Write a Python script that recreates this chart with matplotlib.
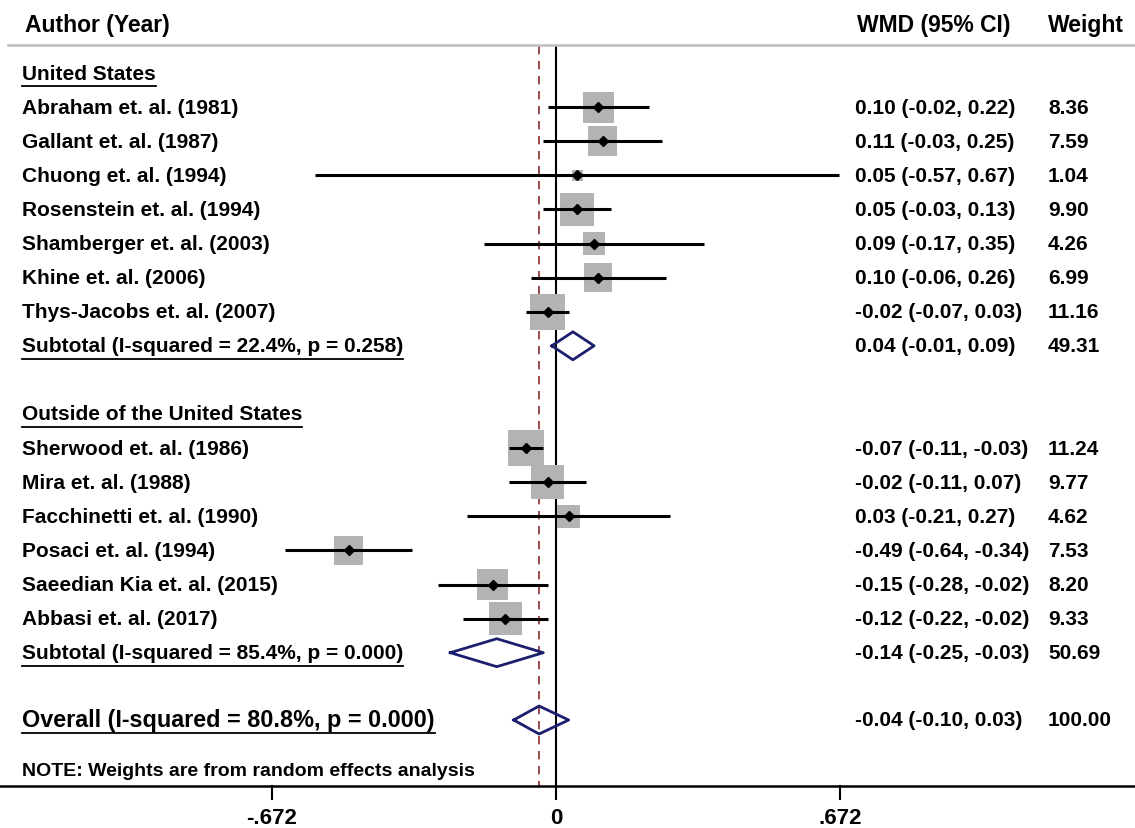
import numpy as np
import matplotlib
matplotlib.use("Agg")
import matplotlib.pyplot as plt
from matplotlib import transforms

plt.rcParams['font.family'] = ['Liberation Sans', 'DejaVu Sans']
plt.rcParams['font.weight'] = 'bold'

# study data, top to bottom
us_names = ["Abraham et. al. (1981)", "Gallant et. al. (1987)", "Chuong et. al. (1994)",
            "Rosenstein et. al. (1994)", "Shamberger et. al. (2003)", "Khine et. al. (2006)",
            "Thys-Jacobs et. al. (2007)"]
us_est = [0.10, 0.11, 0.05, 0.05, 0.09, 0.10, -0.02]
us_lo = [-0.02, -0.03, -0.57, -0.03, -0.17, -0.06, -0.07]
us_hi = [0.22, 0.25, 0.67, 0.13, 0.35, 0.26, 0.03]
us_w = [8.36, 7.59, 1.04, 9.90, 4.26, 6.99, 11.16]

out_names = ["Sherwood et. al. (1986)", "Mira et. al. (1988)", "Facchinetti et. al. (1990)",
             "Posaci et. al. (1994)", "Saeedian Kia et. al. (2015)", "Abbasi et. al. (2017)"]
out_est = [-0.07, -0.02, 0.03, -0.49, -0.15, -0.12]
out_lo = [-0.11, -0.11, -0.21, -0.64, -0.28, -0.22]
out_hi = [-0.03, 0.07, 0.27, -0.34, -0.02, -0.02]
out_w = [11.24, 9.77, 4.62, 7.53, 8.20, 9.33]

# pooled estimates: (label, est, lo, hi, weight)
us_sub = ("Subtotal (I-squared = 22.4%, p = 0.258)", 0.04, -0.01, 0.09, 49.31)
out_sub = ("Subtotal (I-squared = 85.4%, p = 0.000)", -0.14, -0.25, -0.03, 50.69)
overall = ("Overall (I-squared = 80.8%, p = 0.000)", -0.04, -0.10, 0.03, 100.00)

xticks = [-0.672, 0, 0.672]
xtick_labels = ["-.672", "0", ".672"]

W, H = 1135, 829
fig = plt.figure(figsize=(W / 100, H / 100), dpi=100)
ax = fig.add_axes([0, 0, 1, 1])
ax.axis('off')

# map: x zero at 556 px, 423 px per unit ; rows at 74 + 34.1*r px
x0px, xscale = 556, 423.0
ax.set_xlim(-x0px / xscale, (W - x0px) / xscale)
r0px, rstep = 74, 34.1
ax.set_ylim((H - r0px) / rstep, -r0px / rstep)

def row(px):
    return (px - r0px) / rstep

tr = transforms.blended_transform_factory(ax.transAxes, ax.transData)
fs = 15
hfs = 16.5
col_lab = 22 / W
col_ci = 855 / W
col_w = 1048 / W

axis_r = row(787)
top_r = row(47)

def fmt_ci(e, l, h):
    return "%.2f (%.2f, %.2f)" % (e, l, h)

underlined = []

def put_text(r, s, size=fs, under=False):
    t = ax.text(col_lab, r, s, transform=tr, ha='left', va='center',
                fontsize=size, fontweight='bold')
    if under:
        underlined.append((t, r))

# header
ax.text(25 / W, row(25), "Author (Year)", transform=tr, ha='left', va='center',
        fontsize=hfs, fontweight='bold')
ax.text(857 / W, row(25), "WMD (95% CI)", transform=tr, ha='left', va='center',
        fontsize=hfs, fontweight='bold')
ax.text(col_w, row(25), "Weight", transform=tr, ha='left', va='center',
        fontsize=hfs, fontweight='bold')
ax.plot([8 / W, 1], [row(46), row(46)], transform=tr, color='#bdbdbd', lw=1.8,
        clip_on=False)

# reference lines
ax.plot([0, 0], [top_r, axis_r], color='black', lw=1.5, zorder=1)
ax.plot([overall[1], overall[1]], [top_r, axis_r], color='#8b2c2c', lw=1.2,
        ls=(0, (5, 4)), zorder=1)

def draw_group(start, title, names, est, lo, hi, w, sub):
    put_text(start, title, under=True)
    for i in range(len(names)):
        r = start + 1 + i
        put_text(r, names[i])
        ax.scatter([est[i]], [r], s=59.6 * w[i], marker='s', color='#b3b3b3',
                   edgecolors='none', zorder=2)
        ax.plot([lo[i], hi[i]], [r, r], color='black', lw=2.2, zorder=3,
                solid_capstyle='butt')
        ax.plot([est[i]], [r], marker='D', ms=5, color='black', zorder=4)
        ax.text(col_ci, r, fmt_ci(est[i], lo[i], hi[i]), transform=tr, ha='left',
                va='center', fontsize=fs, fontweight='bold')
        ax.text(col_w, r, "%.2f" % w[i], transform=tr, ha='left', va='center',
                fontsize=fs, fontweight='bold')
    r = start + 1 + len(names)
    draw_diamond(r, sub)

def draw_diamond(r, d, size=fs):
    lab, e, l, h, wt = d
    put_text(r, lab, size=size, under=True)
    hh = 0.41
    ax.plot([l, e, h, e, l], [r, r - hh, r, r + hh, r], color='#1b1f6e', lw=2,
            zorder=4)
    ax.text(col_ci, r, fmt_ci(e, l, h), transform=tr, ha='left', va='center',
            fontsize=fs, fontweight='bold')
    ax.text(col_w, r, "%.2f" % wt, transform=tr, ha='left', va='center',
            fontsize=fs, fontweight='bold')

draw_group(0, "United States", us_names, us_est, us_lo, us_hi, us_w, us_sub)
draw_group(10, "Outside of the United States", out_names, out_est, out_lo, out_hi,
           out_w, out_sub)
draw_diamond(row(721), overall, size=16.8)

ax.text(col_lab, row(772), "NOTE: Weights are from random effects analysis",
        transform=tr, ha='left', va='center', fontsize=14, fontweight='bold')

# x axis
ax.plot([0, 1], [axis_r, axis_r], transform=tr, color='black', lw=1.8, clip_on=False)
for xv, lab in zip(xticks, xtick_labels):
    ax.plot([xv, xv], [axis_r, row(800)], color='black', lw=1.5)
    ax.text(xv, row(819), lab, ha='center', va='center', fontsize=16,
            fontweight='bold')

# underlines under headings / pooled labels
fig.canvas.draw()
rend = fig.canvas.get_renderer()
for t, r in underlined:
    bb = t.get_window_extent(renderer=rend)
    ax.plot([bb.x0 / W, bb.x1 / W], [r + 0.38, r + 0.38], transform=tr,
            color='black', lw=1.3)

fig.savefig("out.png", dpi=100)
